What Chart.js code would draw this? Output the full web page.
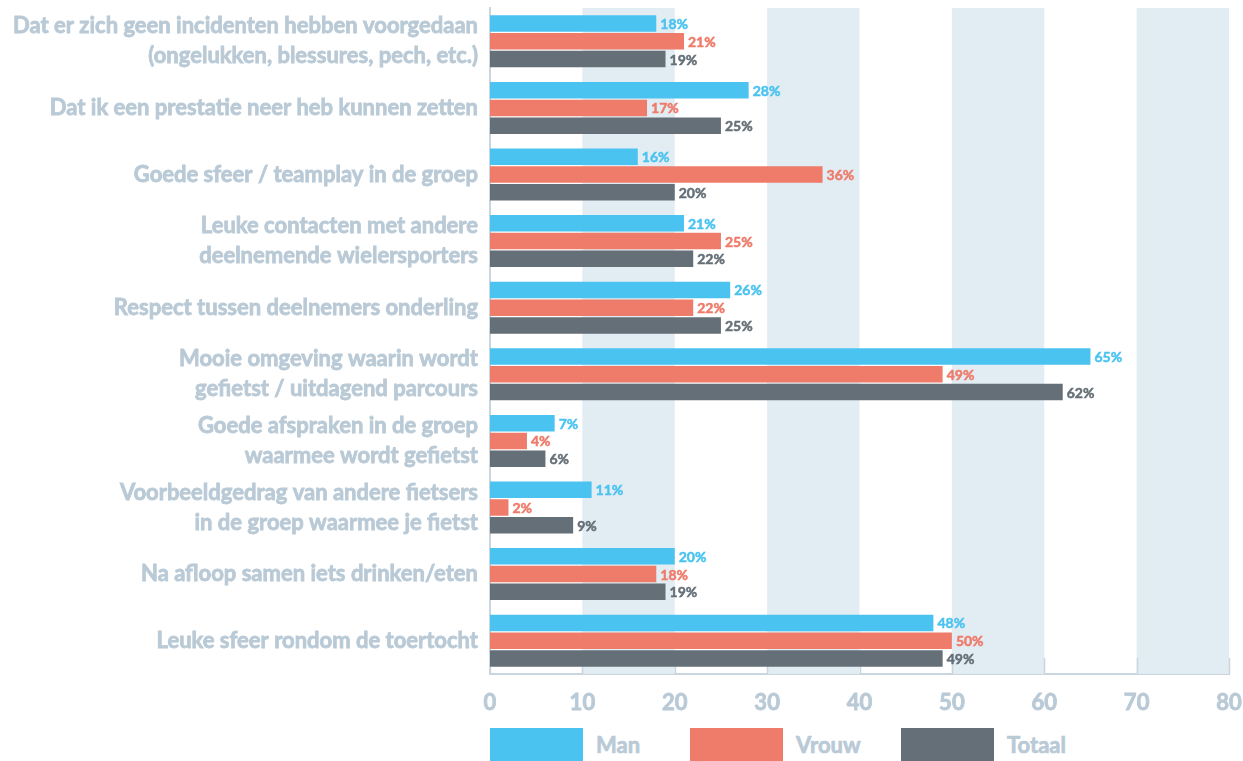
<!DOCTYPE html>
<html lang="nl">
<head>
<meta charset="UTF-8">
<title>Belangrijkste factoren toertocht</title>
<script src="https://cdn.jsdelivr.net/npm/chart.js"></script>
<style>
  body { margin: 0; background: #fff; font-family: Lato, sans-serif; }
  #wrap { position: relative; width: 1243px; height: 761px; }
  #chart-box { position: absolute; left: 0; top: 0; width: 1243px; height: 724px; }
  #legend { position: absolute; top: 728px; display: flex; }
  .item { display: flex; align-items: center; }
  .item span.box { display: inline-block; width: 93px; height: 33px; margin-right: 13px; }
  .item span.txt { font-weight: 700; font-size: 22px; color: #b9cad6; -webkit-text-stroke: 0.7px #b9cad6; }
</style>
</head>
<body>
<div id="wrap">
  <div id="chart-box"><canvas id="myChart"></canvas></div>
  <div id="legend"></div>
</div>
<script>
const categories = [
  ["Dat er zich geen incidenten hebben voorgedaan", "(ongelukken, blessures, pech, etc.)"],
  "Dat ik een prestatie neer heb kunnen zetten",
  "Goede sfeer / teamplay in de groep",
  ["Leuke contacten met andere", "deelnemende wielersporters"],
  "Respect tussen deelnemers onderling",
  ["Mooie omgeving waarin wordt", "gefietst / uitdagend parcours"],
  ["Goede afspraken in de groep", "waarmee wordt gefietst"],
  ["Voorbeeldgedrag van andere fietsers", "in de groep waarmee je fietst"],
  "Na afloop samen iets drinken/eten",
  "Leuke sfeer rondom de toertocht"
];
const man    = [18, 28, 16, 21, 26, 65, 7, 11, 20, 48];
const vrouw  = [21, 17, 36, 25, 22, 49, 4, 2, 18, 50];
const totaal = [19, 25, 20, 22, 25, 62, 6, 9, 19, 49];
const xTicks = [0, 10, 20, 30, 40, 50, 60, 70, 80];

const LABEL_COLOR = "#b9cad6";
const BAND_COLOR = "#e2ecf3";
const AXIS_COLOR = "#c9d6e0";

// alternating light bands + short tick marks on the base line
const bandsPlugin = {
  id: "bands",
  beforeDatasetsDraw(chart) {
    const { ctx, chartArea: a, scales: { x } } = chart;
    ctx.save();
    ctx.fillStyle = BAND_COLOR;
    for (let i = 1; i < xTicks.length - 1; i += 2) {
      const x0 = x.getPixelForValue(xTicks[i]);
      const x1 = x.getPixelForValue(xTicks[i + 1]);
      ctx.fillRect(x0, a.top, x1 - x0, a.bottom - a.top);
    }
    ctx.strokeStyle = AXIS_COLOR;
    ctx.lineWidth = 1.5;
    xTicks.forEach(v => {
      const px = Math.round(x.getPixelForValue(v)) + 0.5;
      ctx.beginPath();
      ctx.moveTo(px, a.bottom);
      ctx.lineTo(px, a.bottom - 16);
      ctx.stroke();
    });
    ctx.restore();
  }
};

// percentage text at the end of every bar
const valueLabels = {
  id: "valueLabels",
  afterDatasetsDraw(chart) {
    const { ctx } = chart;
    ctx.save();
    ctx.font = "bold 14px Lato, sans-serif";
    ctx.textBaseline = "middle";
    ctx.textAlign = "left";
    ctx.lineWidth = 0.5;
    chart.data.datasets.forEach((ds, i) => {
      chart.getDatasetMeta(i).data.forEach((bar, j) => {
        const t = ds.data[j] + "%";
        ctx.fillStyle = ds.backgroundColor;
        ctx.strokeStyle = ds.backgroundColor;
        ctx.strokeText(t, bar.x + 4, bar.y + 1);
        ctx.fillText(t, bar.x + 4, bar.y + 1);
      });
    });
    ctx.restore();
  }
};

const datasets = [
  { label: "Man", data: man, backgroundColor: "#4bc3f0" },
  { label: "Vrouw", data: vrouw, backgroundColor: "#ef7b6a" },
  { label: "Totaal", data: totaal, backgroundColor: "#646f77" }
];

const chart = new Chart(document.getElementById("myChart"), {
  type: "bar",
  data: {
    labels: categories,
    datasets: datasets.map(d => Object.assign({ categoryPercentage: 0.8, barPercentage: 0.93 }, d))
  },
  options: {
    indexAxis: "y",
    responsive: true,
    maintainAspectRatio: false,
    animation: false,
    layout: { padding: { top: 8, right: 14 } },
    plugins: {
      legend: { display: false },
      tooltip: { enabled: false }
    },
    scales: {
      x: {
        min: 0,
        max: 80,
        afterBuildTicks: s => { s.ticks = xTicks.map(v => ({ value: v })); },
        afterFit: s => { s.height = 50; s.paddingLeft = 0; s.paddingRight = 0; },
        grid: { display: false, drawTicks: false },
        border: { display: true, color: AXIS_COLOR, width: 2 },
        ticks: {
          padding: 16,
          color: LABEL_COLOR,
          textStrokeColor: LABEL_COLOR,
          textStrokeWidth: 0.8,
          font: { family: "Lato", size: 22, weight: "bold" }
        }
      },
      y: {
        afterFit: s => { s.width = 490; s.paddingTop = 0; s.paddingBottom = 0; },
        grid: { display: false, drawTicks: false },
        border: { display: true, color: AXIS_COLOR, width: 2 },
        ticks: {
          padding: 12,
          color: LABEL_COLOR,
          textStrokeColor: LABEL_COLOR,
          textStrokeWidth: 0.8,
          font: { family: "Lato", size: 22, weight: "bold", lineHeight: 1.37 }
        }
      }
    }
  },
  plugins: [bandsPlugin, valueLabels]
});

// legend under the axis, starting at the left edge of the plot
const legend = document.getElementById("legend");
legend.style.left = chart.chartArea.left + "px";
const itemWidths = [200, 211, 200];
datasets.forEach((d, i) => {
  const item = document.createElement("div");
  item.className = "item";
  item.style.width = itemWidths[i] + "px";
  item.innerHTML = `<span class="box" style="background:${d.backgroundColor}"></span><span class="txt">${d.label}</span>`;
  legend.appendChild(item);
});
</script>
</body>
</html>
